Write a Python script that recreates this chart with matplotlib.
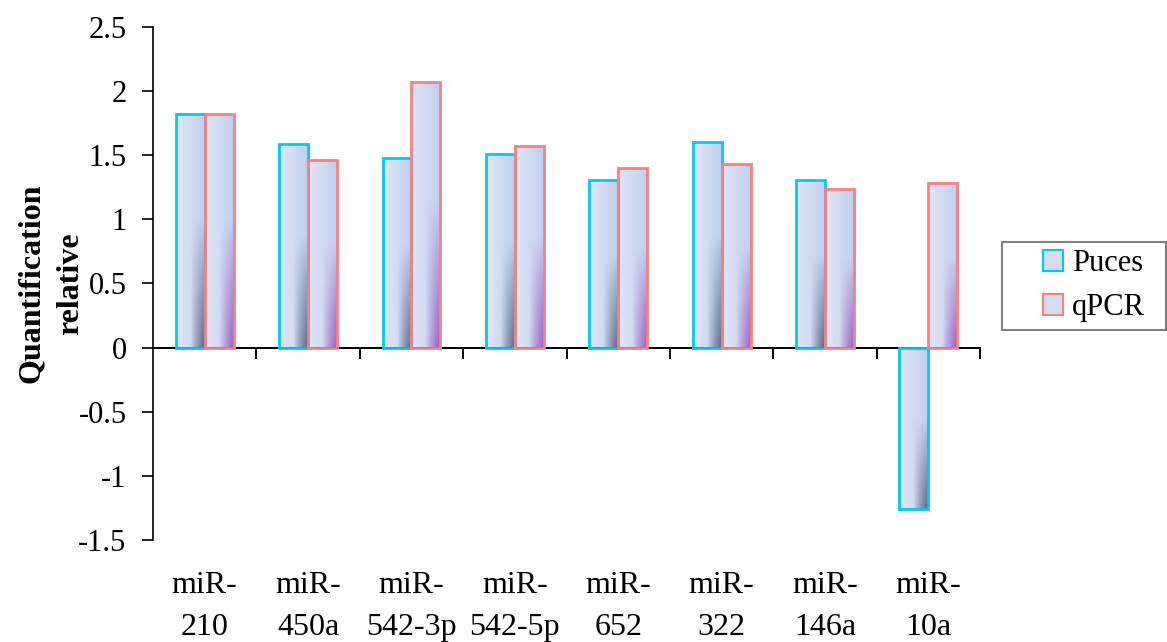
import numpy as np
import matplotlib.pyplot as plt
from matplotlib.patches import Patch, Rectangle
from matplotlib.colors import to_rgb
import matplotlib.transforms as mtransforms

plt.rcParams['font.family'] = ['Liberation Serif', 'DejaVu Serif']

categories = ["miR-\n210", "miR-\n450a", "miR-\n542-3p", "miR-\n542-5p",
              "miR-\n652", "miR-\n322", "miR-\n146a", "miR-\n10a"]
puces = [1.82, 1.59, 1.48, 1.51, 1.31, 1.60, 1.31, -1.26]
qpcr = [1.82, 1.46, 2.07, 1.57, 1.40, 1.43, 1.24, 1.28]

fig = plt.figure(figsize=(11.67, 6.42), dpi=100)
ax = fig.add_axes([0.1311, 0.1589, 0.7087, 0.7991])

n = len(categories)
x = np.arange(n)
w = 0.28
fs = 22


def gradient(dark):
    # light lavender on the left, darker towards bottom-right
    nx, ny = 40, 60
    t = np.linspace(0, 1, nx)[None, :]
    s = np.linspace(0, 1, ny)[:, None]
    light = np.array(to_rgb("#e1e6f4"))
    mid = np.array(to_rgb("#c2d0ee"))
    dk = np.array(to_rgb(dark))
    base = light + (mid - light) * t[..., None]
    k = np.clip((t - 0.5) / 0.5, 0, 1) * np.clip((s - 0.45) / 0.55, 0, 1)
    k = k[..., None] ** 0.9
    img = base * (1 - k) + dk * k
    return img


def draw_bars(xs, vals, edge, dark):
    img = gradient(dark)
    for xi, v in zip(xs, vals):
        bar = ax.bar(xi, v, w, color="none", edgecolor=edge, linewidth=2.0, zorder=3)[0]
        y0, y1 = min(0, v), max(0, v)
        im = ax.imshow(img, extent=(xi - w / 2, xi + w / 2, y0, y1), origin="upper",
                       aspect="auto", zorder=2, interpolation="bilinear")
        im.set_clip_path(bar)


draw_bars(x - w / 2, puces, "#00c8f8", "#5f6a86")
draw_bars(x + w / 2, qpcr, "#f88080", "#a060c4")

ax.set_xlim(-0.5, n - 0.5)
ax.set_ylim(-1.5, 2.5)
ax.set_yticks(np.arange(-1.5, 2.51, 0.5))
ax.set_yticklabels(["-1.5", "-1", "-0.5", "0", "0.5", "1", "1.5", "2", "2.5"])
ax.tick_params(axis="y", direction="out", length=8, width=1.2, labelsize=fs, pad=11)

ax.spines["top"].set_visible(False)
ax.spines["right"].set_visible(False)
ax.spines["bottom"].set_position(("data", 0))
ax.spines["bottom"].set_linewidth(1.4)
ax.spines["left"].set_linewidth(1.2)
ax.set_xticks(np.arange(0.5, n, 1.0))
ax.set_xticklabels([])
ax.tick_params(axis="x", direction="out", length=8, width=1.4)

trans = mtransforms.blended_transform_factory(ax.transData, ax.transAxes)
for xi, lab in zip(x, categories):
    ax.text(xi, -0.06, lab, transform=trans, ha="center", va="top",
            fontsize=23, linespacing=1.6)

ax.set_ylabel("Quantification\nrelative", fontsize=23, fontweight="bold",
              linespacing=1.45)
ax.yaxis.set_label_coords(-0.082, 0.5)

# legend: frame drawn separately so the inner padding can match
fig.patches.append(Rectangle((0.8586, 0.486), 0.1405, 0.137, transform=fig.transFigure,
                             facecolor="white", edgecolor="#808080", linewidth=1.5))
handles = [Patch(facecolor="#d4dcf0", edgecolor="#00c8f8", linewidth=1.5, label="Puces"),
           Patch(facecolor="#d4dcf0", edgecolor="#f88080", linewidth=1.5, label="qPCR")]
leg = fig.legend(handles=handles, loc="upper left", bbox_to_anchor=(0.8937, 0.612),
                 fontsize=fs, frameon=False,
                 handlelength=0.65, handleheight=0.65, handletextpad=0.3,
                 borderpad=0, labelspacing=0.5, borderaxespad=0)

fig.savefig("out.png", dpi=100)
